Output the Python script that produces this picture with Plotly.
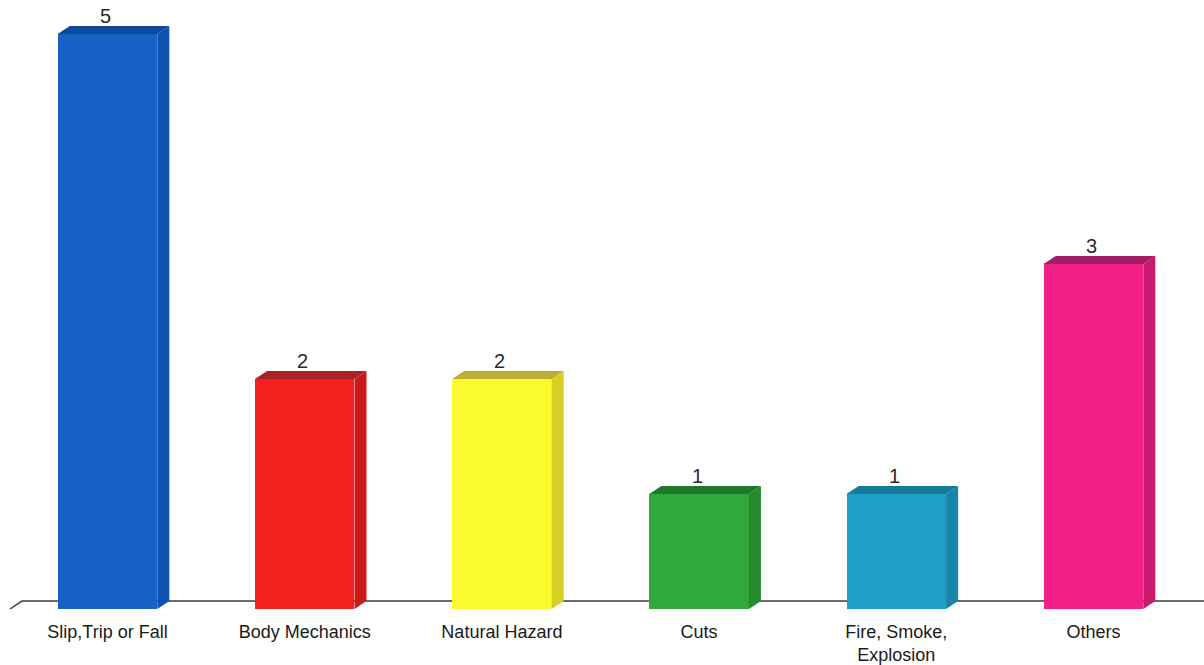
import plotly.graph_objects as go

# Incident counts by cause
categories = ["Slip,Trip or Fall", "Body Mechanics", "Natural Hazard", "Cuts",
              "Fire, Smoke,<br>Explosion", "Others"]
counts = [5, 2, 2, 1, 1, 3]

front_colors = ["#1660c6", "#f41f1f", "#fcfb2e", "#2fa83c", "#1d9fc7", "#f11f86"]
side_colors = ["#0f51ad", "#cc1a1a", "#d8cf24", "#258c30", "#1786aa", "#c8196f"]
top_colors = ["#0d4a9e", "#a82424", "#bfae36", "#1e7a2a", "#167b9b", "#a01d66"]

xs = list(range(len(categories)))
bar_w = 0.505          # front face width in category units
dx, dy = 0.061, 0.07   # 3D depth offset (x in category units, y in value units)

fig = go.Figure()

# Front faces
fig.add_trace(go.Bar(
    x=xs, y=counts, width=bar_w,
    marker=dict(color=front_colors, line=dict(width=0)),
    hoverinfo="skip", showlegend=False,
))

# Side and top faces for the extruded look
for x, v, sc, tc in zip(xs, counts, side_colors, top_colors):
    r = x + bar_w / 2
    l = x - bar_w / 2
    fig.add_trace(go.Scatter(
        x=[r, r + dx, r + dx, r, r], y=[0, dy, v + dy, v, 0],
        fill="toself", fillcolor=sc, mode="lines", line=dict(width=0, color=sc),
        hoverinfo="skip", showlegend=False,
    ))
    fig.add_trace(go.Scatter(
        x=[l, l + dx, r + dx, r, l], y=[v, v + dy, v + dy, v, v],
        fill="toself", fillcolor=tc, mode="lines", line=dict(width=0, color=tc),
        hoverinfo="skip", showlegend=False,
    ))

# Value labels above each bar
for x, v in zip(xs, counts):
    fig.add_annotation(
        x=x, y=v + dy, text=str(v), showarrow=False,
        yanchor="bottom", xanchor="center", yshift=-3, xshift=-2,
        font=dict(family="Liberation Sans, Arial, sans-serif", size=20, color="#2a2a2a"),
    )

# Floor edge of the 3D box
x0 = -0.494
fig.add_shape(type="line", xref="x", yref="y", x0=x0, y0=0, x1=x0 + dx, y1=dy,
              line=dict(color="#3a3a3a", width=1.5), layer="below")
fig.add_shape(type="line", xref="x", yref="y", x0=x0 + dx, y0=dy, x1=5.6, y1=dy,
              line=dict(color="#3a3a3a", width=1.5), layer="below")

fig.update_layout(
    width=1204, height=665,
    margin=dict(l=0, r=0, t=0, b=56),
    paper_bgcolor="white", plot_bgcolor="white",
    bargap=0,
    xaxis=dict(
        range=[-0.5451, 5.5603], tickmode="array", tickvals=xs, ticktext=categories,
        showgrid=False, zeroline=False, showline=False, ticks="",
        tickfont=dict(family="Liberation Sans, Arial, sans-serif", size=18, color="#1a1a1a"),
        ticklabelstandoff=10, fixedrange=True,
    ),
    yaxis=dict(
        range=[0, 5.296], visible=False, fixedrange=True,
    ),
)

fig.write_html("out.html", config={"displayModeBar": False})
